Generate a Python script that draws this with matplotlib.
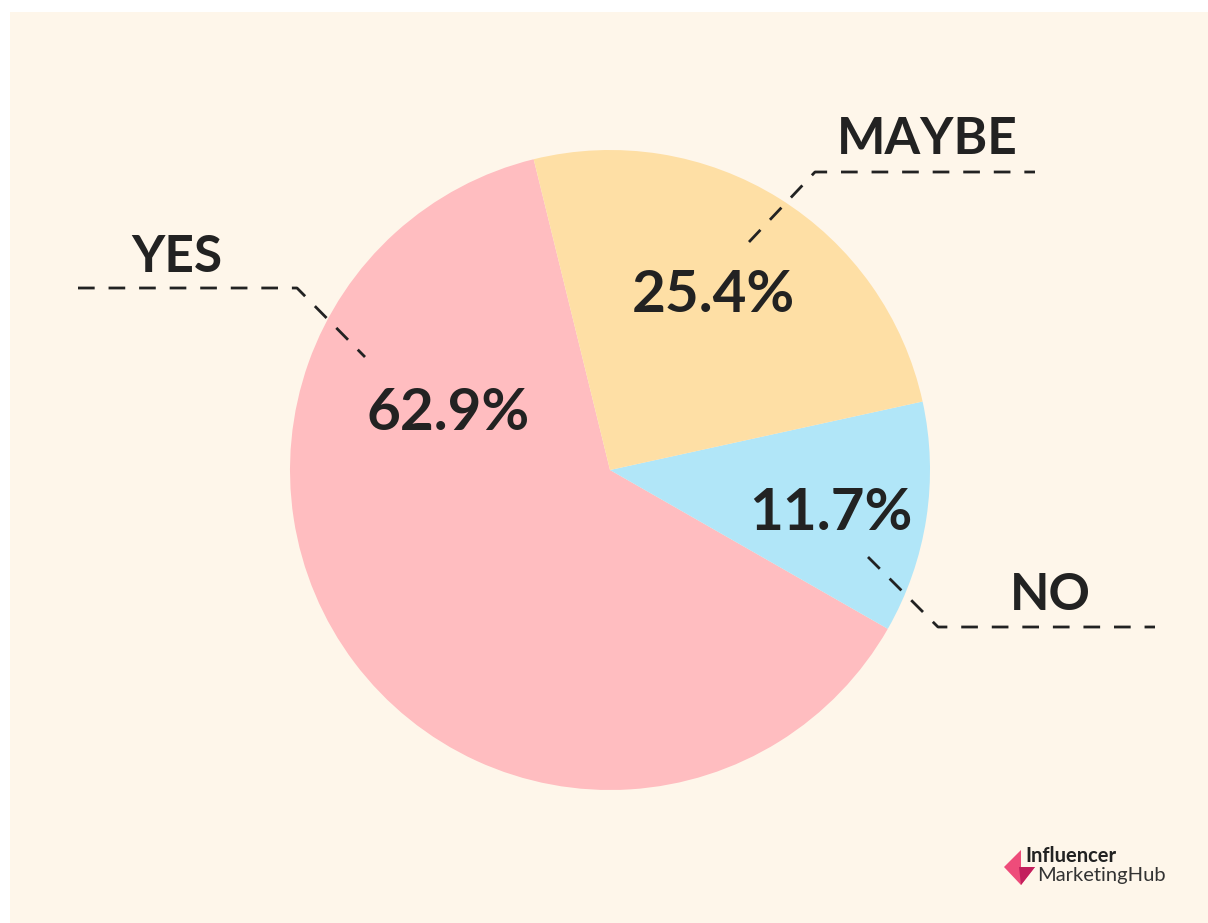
import matplotlib.pyplot as plt
from matplotlib.patches import Rectangle, Polygon

# Datos del grafico
etiquetas = ['YES', 'NO', 'MAYBE']
valores = [62.9, 11.7, 25.4]
colores = ['#FFBDC0', '#B1E6F8', '#FEDFA5']

W, H = 1208, 923
CX, CY, R = 610, 470, 320
fondo = '#FEF6EA'
tinta = '#222222'

plt.rcParams['font.family'] = ['Lato', 'DejaVu Sans']


def px(x, y):
    """pixel de la imagen -> coordenadas de datos (radio = 1)"""
    return (x - CX) / R, (CY - y) / R


fig = plt.figure(figsize=(W / 100, H / 100), dpi=100)
fig.patch.set_facecolor('white')
ax = fig.add_axes([0, 0, 1, 1])
ax.axis('off')

# panel crema
x0, y0 = px(10, 923)
x1, y1 = px(1208, 12)
ax.add_patch(Rectangle((x0, y0), x1 - x0, y1 - y0, facecolor=fondo,
                       edgecolor='none', zorder=0))

ax.pie(valores, colors=colores, startangle=103.8, counterclock=True,
       radius=1, center=(0, 0), wedgeprops=dict(linewidth=0))
ax.set_xlim(px(0, 0)[0], px(W, 0)[0])
ax.set_ylim(px(0, H)[1], px(0, 0)[1])
ax.set_aspect('equal')

# porcentajes y etiquetas
pos_pct = {'YES': (448, 413), 'NO': (831, 513), 'MAYBE': (713, 296)}
pos_lab = {'YES': (177, 257), 'NO': (1050, 595), 'MAYBE': (927, 139)}
for lab, v in zip(etiquetas, valores):
    ax.text(*px(*pos_pct[lab]), f'{v:.1f}%', ha='center', va='center',
            fontsize=42, fontweight='bold', color=tinta, zorder=5)
    ax.text(*px(*pos_lab[lab]), lab, ha='center', va='center',
            fontsize=37, fontweight='bold', color=tinta, zorder=5)

# lineas guia discontinuas
guias = [
    [(78, 288), (297, 288), (365, 357)],
    [(749, 242), (815, 172), (1035, 172)],
    [(868, 557), (938, 627), (1155, 627)],
]
for g in guias:
    xs, ys = zip(*[px(*p) for p in g])
    ax.plot(xs, ys, color=tinta, lw=2, ls=(0, (6, 5)), zorder=4)

# logo
ax.add_patch(Polygon([px(1004, 867), px(1021, 850), px(1021, 867),
                      px(1035, 867), px(1021, 885)],
                     closed=True, facecolor='#EE4C7A', edgecolor='none', zorder=5))
ax.add_patch(Polygon([px(1019, 867), px(1035, 867), px(1021, 885)],
                     closed=True, facecolor='#C31F5D', edgecolor='none', zorder=6))
ax.text(*px(1025, 862), 'Influencer', ha='left', va='baseline',
        fontsize=14.5, fontweight='bold', color=tinta, zorder=6)
ax.text(*px(1037, 881), 'MarketingHub', ha='left', va='baseline',
        fontsize=14.5, color='#333333', zorder=6)

fig.savefig('out.png', dpi=100, facecolor='white')
